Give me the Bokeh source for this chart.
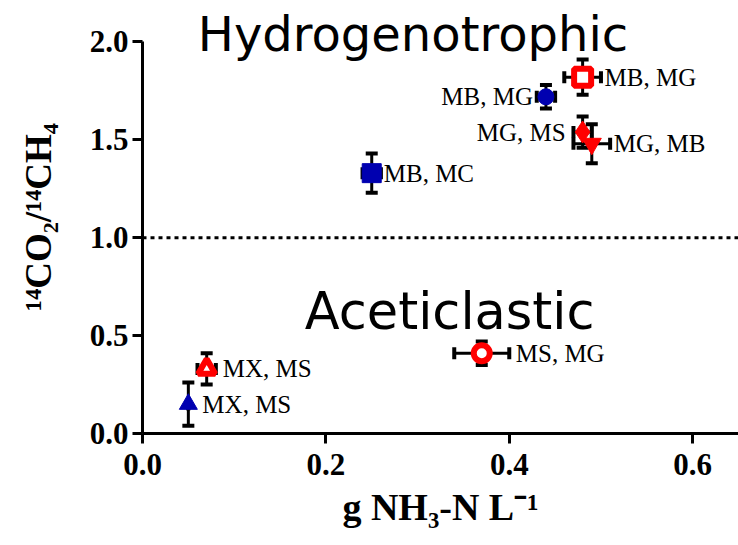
from bokeh.plotting import figure
from bokeh.models import ColumnDataSource, Whisker, TeeHead, Span, Label, Range1d, FixedTicker
from bokeh.core.properties import value
from bokeh.embed import file_html
from bokeh.resources import INLINE

# ---- data ----
labels = ["MX, MS", "MX, MS", "MB, MC", "MB, MG", "MB, MG", "MG, MS", "MG, MB", "MS, MG"]
nh3 = [0.05, 0.07, 0.25, 0.44, 0.48, 0.48, 0.49, 0.37]          # g NH3-N / L
nh3_err = [0.0, 0.01, 0.01, 0.01, 0.02, 0.01, 0.02, 0.03]
ratio = [0.15, 0.33, 1.33, 1.72, 1.82, 1.54, 1.48, 0.41]         # 14CO2 / 14CH4
ratio_err = [0.11, 0.08, 0.10, 0.06, 0.09, 0.08, 0.10, 0.06]

x_ticks = [0.0, 0.2, 0.4, 0.6]
y_ticks = [0.0, 0.5, 1.0, 1.5, 2.0]
threshold = 1.0
region_texts = ["Hydrogenotrophic", "Aceticlastic"]

# ---- styles ----
BLUE = "#0000b0"
RED = "#ff0000"
markers = ["triangle", "triangle", "square", "circle", "square", "diamond", "inverted_triangle", "circle"]
fills = [BLUE, "white", BLUE, BLUE, "white", RED, RED, "white"]
edges = [BLUE, RED, BLUE, BLUE, RED, RED, RED, RED]
sizes = [18, 17, 19, 16, 17, 22, 19, 16]
edge_w = [1, 6, 1, 1, 6, 1, 1, 6]
label_dx = [14, 16, 12, -13, 22, -17, 22, 34]
label_align = ["left", "left", "left", "right", "left", "right", "left", "left"]

src = ColumnDataSource(dict(
    x=nh3, y=ratio, label=labels,
    xl=[a - b for a, b in zip(nh3, nh3_err)], xu=[a + b for a, b in zip(nh3, nh3_err)],
    yl=[a - b for a, b in zip(ratio, ratio_err)], yu=[a + b for a, b in zip(ratio, ratio_err)],
    marker=markers, fill=fills, edge=edges, size=sizes, lw=edge_w,
    dx=label_dx, align=label_align,
))

p = figure(width=738, height=545, output_backend="svg", toolbar_location=None,
           x_range=Range1d(0, 0.65), y_range=Range1d(0, 2.212),
           min_border_left=142, min_border_right=0, min_border_top=0, min_border_bottom=112)
p.outline_line_color = None
p.grid.visible = False
p.background_fill_color = "white"
p.border_fill_color = "white"

# dotted threshold line
p.add_layout(Span(location=threshold, dimension="width", line_color="black",
                  line_width=3, line_dash="4 4"))

# error bars
def head():
    return TeeHead(size=12, line_width=4, line_color="black")

p.add_layout(Whisker(source=src, base="x", lower="yl", upper="yu", dimension="height",
                     line_width=3, line_color="black", lower_head=head(), upper_head=head()))
p.add_layout(Whisker(source=src, base="y", lower="xl", upper="xu", dimension="width",
                     line_width=3, line_color="black", lower_head=head(), upper_head=head()))

p.scatter("x", "y", source=src, marker="marker", size="size", fill_color="fill",
          line_color="edge", line_width="lw")

p.text("x", "y", text="label", source=src, x_offset="dx", text_align="align",
       text_baseline="middle", text_font=value("Liberation Serif"),
       text_font_size="25px", text_color="black")

p.add_layout(Label(x=0.295, y=2.04, text=region_texts[0], text_align="center",
                   text_baseline="alphabetic", text_font="DejaVu Sans",
                   text_font_size="48px", text_color="black"))
p.add_layout(Label(x=0.335, y=0.625, text=region_texts[1], text_align="center",
                   text_baseline="alphabetic", text_font="DejaVu Sans",
                   text_font_size="51px", text_color="black"))

for ax in (p.xaxis[0], p.yaxis[0]):
    ax.axis_line_width = 3
    ax.axis_line_color = "black"
    ax.major_tick_line_width = 3
    ax.major_tick_line_color = "black"
    ax.major_tick_out = 10
    ax.major_tick_in = 0
    ax.minor_tick_line_color = None
    ax.major_label_text_font = "Liberation Serif"
    ax.major_label_text_font_style = "bold"
    ax.major_label_text_font_size = "31px"
    ax.major_label_text_color = "black"
    ax.axis_label_text_font = "Liberation Serif"
    ax.axis_label_text_font_style = "bold"
    ax.axis_label_text_color = "black"

p.yaxis.bounds = (0, 2.0)
p.xaxis.ticker = FixedTicker(ticks=x_ticks)
p.yaxis.ticker = FixedTicker(ticks=y_ticks)
p.xaxis.major_label_overrides = {t: f"{t:.1f}" for t in x_ticks}
p.yaxis.major_label_overrides = {t: f"{t:.1f}" for t in y_ticks}
p.xaxis.major_label_standoff = 10
p.yaxis.major_label_standoff = 4

p.xaxis.axis_label = "g NH\u2083-N L\u207b\u00b9"
p.yaxis.axis_label = "\u00b9\u2074CO\u2082/\u00b9\u2074CH\u2084"
p.xaxis.axis_label_text_font_size = "38px"
p.yaxis.axis_label_text_font_size = "37px"
p.xaxis.axis_label_standoff = 8
p.yaxis.axis_label_standoff = 28

open("out.html", "w").write(file_html(p, INLINE))
